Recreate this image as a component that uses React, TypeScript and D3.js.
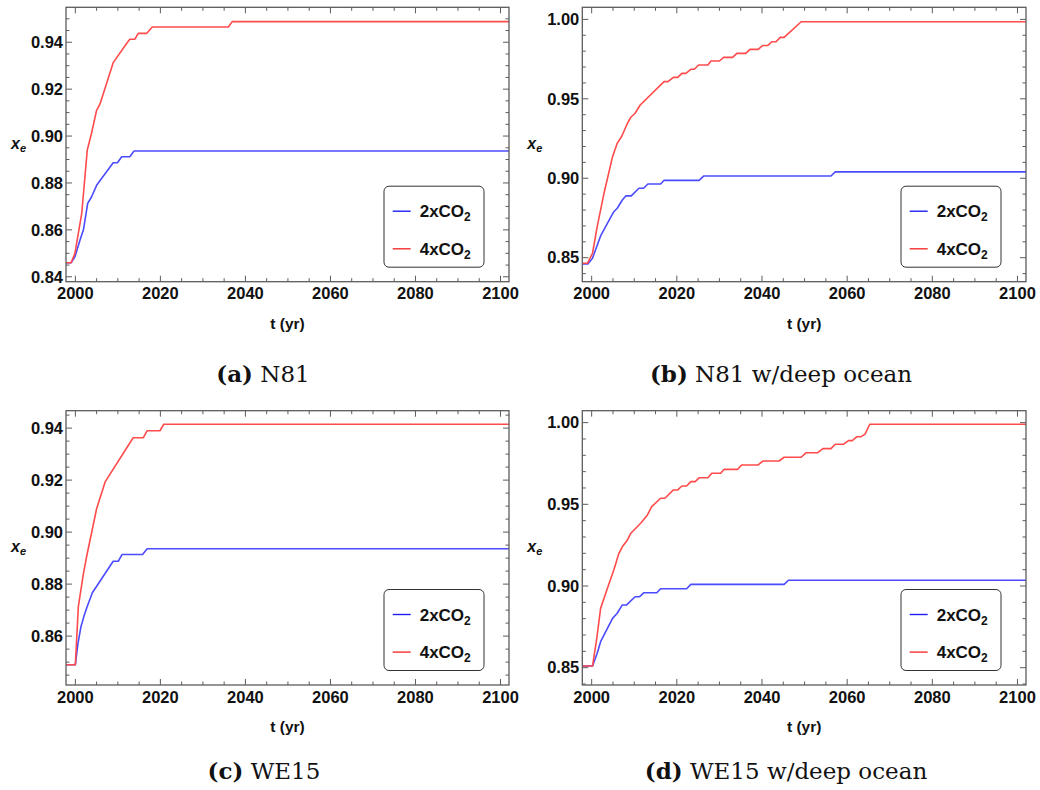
import React from 'react';
import * as d3 from 'd3';

// Shared time axis (years)
const X_DOMAIN: [number, number] = [1997.8, 2102];
const X_MAJOR = [2000, 2020, 2040, 2060, 2080, 2100];
const X_MINOR_STEP = 5;

// Legend entries
const LEGEND_LABELS = ['2xCO', '4xCO'];

// y-axis ticks per panel
const Y_MAJOR_SMALL = [0.84, 0.86, 0.88, 0.9, 0.92, 0.94];
const Y_MAJOR_WE15 = [0.86, 0.88, 0.9, 0.92, 0.94];
const Y_MAJOR_DEEP = [0.85, 0.9, 0.95, 1.0];

// (a) N81
const n81TwoX: [number, number][] = [
  [1997.8, 0.846], [1999.0, 0.846], [1999.9, 0.8485], [2001.1, 0.8557], [2001.9, 0.86],
  [2002.9, 0.8713], [2003.8, 0.874], [2005.0, 0.879], [2008.9, 0.8886], [2009.9, 0.8886],
  [2010.9, 0.8912], [2012.8, 0.8912], [2013.8, 0.8936], [2102, 0.8936],
];
const n81FourX: [number, number][] = [
  [1997.8, 0.846], [1999.0, 0.846], [1999.9, 0.85], [2001.5, 0.867], [2002.8, 0.894],
  [2003.8, 0.9012], [2005.0, 0.911], [2005.8, 0.9137], [2008.9, 0.9313], [2012.1, 0.9396],
  [2012.8, 0.9413], [2014.0, 0.9413], [2014.8, 0.9438], [2016.8, 0.9438], [2018.1, 0.9465],
  [2036.0, 0.9465], [2036.9, 0.9488], [2102, 0.9488],
];

// (b) N81 with deep ocean
const n81DeepTwoX: [number, number][] = [
  [1997.8, 0.8461], [1999.1, 0.8461], [2000.2, 0.8497], [2002.1, 0.8637], [2003.5, 0.8706],
  [2005.1, 0.8786], [2006.0, 0.8811], [2007.2, 0.8863], [2008.0, 0.8889], [2009.3, 0.8889],
  [2011.1, 0.8937], [2012.2, 0.8937], [2013.2, 0.8964], [2016.2, 0.8964], [2017.0, 0.8987],
  [2025.2, 0.8987], [2026.3, 0.9014], [2056.2, 0.9014], [2057.2, 0.904], [2102, 0.904],
];
const n81DeepFourX: [number, number][] = [
  [1997.8, 0.8465], [1999.0, 0.8465], [2000.2, 0.8528], [2001.3, 0.8696], [2002.9, 0.8906],
  [2004.9, 0.9136], [2006.0, 0.922], [2007.1, 0.9266], [2008.4, 0.9346], [2009.2, 0.9384],
  [2010.2, 0.9409], [2011.4, 0.9461], [2017.0, 0.9608], [2017.9, 0.9608], [2019.2, 0.9635],
  [2020.2, 0.9635], [2021.2, 0.966], [2022.1, 0.966], [2023.3, 0.9686], [2024.1, 0.9686],
  [2025.1, 0.9713], [2027.3, 0.9713], [2028.0, 0.9738], [2030.0, 0.9738], [2031.0, 0.9761],
  [2033.1, 0.9761], [2034.1, 0.9786], [2036.2, 0.9786], [2037.2, 0.9811], [2039.1, 0.9811],
  [2040.2, 0.9836], [2041.4, 0.9836], [2042.3, 0.9859], [2043.3, 0.9859], [2044.3, 0.9887],
  [2045.2, 0.9887], [2049.2, 0.9985], [2102, 0.9985],
];

// (c) WE15
const we15TwoX: [number, number][] = [
  [1997.8, 0.849], [2000.0, 0.849], [2000.6, 0.857], [2001.3, 0.8635], [2002.0, 0.8675],
  [2002.7, 0.871], [2004.0, 0.8767], [2008.9, 0.8888], [2010.1, 0.8888], [2011.0, 0.8914],
  [2015.8, 0.8914], [2016.9, 0.8936], [2102, 0.8936],
];
const we15FourX: [number, number][] = [
  [1997.8, 0.849], [2000.0, 0.849], [2000.7, 0.8713], [2001.9, 0.884], [2002.7, 0.891],
  [2005.0, 0.909], [2007.0, 0.9193], [2013.6, 0.9363], [2016.0, 0.9363], [2016.9, 0.939],
  [2019.9, 0.939], [2020.8, 0.9415], [2102, 0.9415],
];

// (d) WE15 with deep ocean
const we15DeepTwoX: [number, number][] = [
  [1997.8, 0.851], [2000.2, 0.851], [2001.3, 0.8588], [2002.1, 0.8659], [2004.9, 0.8802],
  [2006.0, 0.8833], [2007.2, 0.8884], [2008.2, 0.8884], [2010.2, 0.8934], [2011.2, 0.8934],
  [2012.3, 0.8959], [2015.3, 0.8959], [2016.2, 0.8983], [2022.3, 0.8983], [2023.3, 0.901],
  [2045.2, 0.901], [2046.2, 0.9035], [2102, 0.9035],
];
const we15DeepFourX: [number, number][] = [
  [1997.8, 0.851], [2000.2, 0.851], [2001.2, 0.868], [2002.1, 0.8863], [2003.7, 0.8986],
  [2005.2, 0.9098], [2006.4, 0.92], [2007.2, 0.924], [2008.4, 0.9282], [2009.2, 0.9323],
  [2011.5, 0.9384], [2013.1, 0.9435], [2014.1, 0.9486], [2016.2, 0.9537], [2017.2, 0.9537],
  [2019.2, 0.9588], [2020.2, 0.9588], [2021.2, 0.9612], [2022.3, 0.9612], [2023.3, 0.9639],
  [2024.3, 0.9639], [2025.3, 0.9663], [2027.3, 0.9663], [2028.2, 0.969], [2030.3, 0.969],
  [2031.1, 0.9714], [2034.3, 0.9714], [2035.2, 0.9741], [2039.1, 0.9741], [2040.2, 0.9765],
  [2044.0, 0.9765], [2045.2, 0.9788], [2049.2, 0.9788], [2050.4, 0.9816], [2053.1, 0.9816],
  [2054.3, 0.9841], [2056.2, 0.9841], [2057.2, 0.9868], [2059.2, 0.9868], [2060.3, 0.989],
  [2061.2, 0.989], [2062.3, 0.9914], [2063.3, 0.9914], [2064.2, 0.993], [2065.3, 0.999],
  [2102, 0.999],
];

const BLUE = '#4b4bff';
const RED = '#ff4b4b';
const LEGEND_COLORS = ['#1f1ff5', '#f53030'];
const FRAME = '#5c5c5c';
const SANS = '"Liberation Sans", Arial, Helvetica, sans-serif';
const SERIF = '"DejaVu Serif", Georgia, serif';

type Frame = { left: number; top: number; right: number; bottom: number };

type PanelProps = {
  id: string;
  frame: Frame;
  yDomain: [number, number];
  yMajor: number[];
  yMinorStep: number;
  twoX: [number, number][];
  fourX: [number, number][];
  tag: string;
  name: string;
  captionX: number;
  captionY: number;
};

function stepTicks(domain: [number, number], step: number, majors: number[]) {
  const lo = Math.ceil(domain[0] / step - 1e-9);
  const hi = Math.floor(domain[1] / step + 1e-9);
  return d3
    .range(lo, hi + 1)
    .map((k) => +(k * step).toFixed(6))
    .filter((v) => !majors.some((m) => Math.abs(m - v) < 1e-9));
}

function Panel(p: PanelProps) {
  const { left, top, right, bottom } = p.frame;
  const x = d3.scaleLinear().domain(X_DOMAIN).range([left, right]);
  const y = d3.scaleLinear().domain(p.yDomain).range([bottom, top]);
  const line = d3
    .line<[number, number]>()
    .x((d) => x(d[0]))
    .y((d) => y(d[1]));

  const xMinor = stepTicks(X_DOMAIN, X_MINOR_STEP, X_MAJOR);
  const yMinor = stepTicks(p.yDomain, p.yMinorStep, p.yMajor);
  const fmt = d3.format('.2f');
  const MAJ = 6;
  const MIN = 3.5;

  const legW = 100;
  const legH = 81;
  const legX = right - 25 - legW;
  const legY = bottom - 14.5 - legH;

  const midY = (top + bottom) / 2;
  const midX = (left + right) / 2;

  return (
    <g>
      <defs>
        <clipPath id={`clip-${p.id}`}>
          <rect x={left} y={top} width={right - left} height={bottom - top} />
        </clipPath>
      </defs>

      {/* data lines */}
      <g clipPath={`url(#clip-${p.id})`} fill="none" strokeWidth={1.6} strokeLinejoin="round">
        <path d={line(p.twoX) || ''} stroke={BLUE} />
        <path d={line(p.fourX) || ''} stroke={RED} />
      </g>

      {/* ticks on all four sides, pointing inward */}
      <g stroke={FRAME} strokeWidth={1}>
        {X_MAJOR.map((t) => (
          <g key={`xM${t}`}>
            <line x1={x(t)} x2={x(t)} y1={bottom} y2={bottom - MAJ} />
            <line x1={x(t)} x2={x(t)} y1={top} y2={top + MAJ} />
          </g>
        ))}
        {xMinor.map((t) => (
          <g key={`xm${t}`}>
            <line x1={x(t)} x2={x(t)} y1={bottom} y2={bottom - MIN} />
            <line x1={x(t)} x2={x(t)} y1={top} y2={top + MIN} />
          </g>
        ))}
        {p.yMajor.map((t) => (
          <g key={`yM${t}`}>
            <line x1={left} x2={left + MAJ} y1={y(t)} y2={y(t)} />
            <line x1={right} x2={right - MAJ} y1={y(t)} y2={y(t)} />
          </g>
        ))}
        {yMinor.map((t) => (
          <g key={`ym${t}`}>
            <line x1={left} x2={left + MIN} y1={y(t)} y2={y(t)} />
            <line x1={right} x2={right - MIN} y1={y(t)} y2={y(t)} />
          </g>
        ))}
      </g>

      {/* frame */}
      <rect
        x={left}
        y={top}
        width={right - left}
        height={bottom - top}
        fill="none"
        stroke={FRAME}
        strokeWidth={1.3}
      />

      {/* tick labels */}
      <g fontFamily={SANS} fontWeight="bold" fontSize={16.5} fill="#111">
        {X_MAJOR.map((t) => (
          <text key={`xl${t}`} x={x(t)} y={bottom + 17.5} textAnchor="middle">
            {String(t)}
          </text>
        ))}
        {p.yMajor.map((t) => (
          <text key={`yl${t}`} x={left - 3} y={y(t)} dy="0.35em" textAnchor="end">
            {fmt(t)}
          </text>
        ))}
      </g>

      {/* axis titles */}
      <text
        x={midX}
        y={bottom + 47}
        textAnchor="middle"
        fontFamily={SANS}
        fontWeight="bold"
        fontSize={15.5}
        fill="#111"
      >
        t (yr)
      </text>
      <text
        x={left - 55}
        y={midY + 4}
        fontFamily={SANS}
        fontWeight="bold"
        fontStyle="italic"
        fontSize={16}
        fill="#111"
      >
        x
        <tspan fontSize={11} dy={3.5}>
          e
        </tspan>
      </text>

      {/* legend */}
      <rect
        x={legX}
        y={legY}
        width={legW}
        height={legH}
        rx={5}
        ry={5}
        fill="#fff"
        stroke="#333"
        strokeWidth={1}
      />
      {LEGEND_LABELS.map((lab, i) => {
        const ly = legY + 25 + i * 37.6;
        return (
          <g key={lab}>
            <line
              x1={legX + 8.7}
              x2={legX + 26.7}
              y1={ly}
              y2={ly}
              stroke={LEGEND_COLORS[i]}
              strokeWidth={1.4}
            />
            <text
              x={legX + 35.7}
              y={ly + 6}
              fontFamily={SANS}
              fontWeight="bold"
              fontSize={17}
              fill="#111"
            >
              {lab}
              <tspan fontSize={12} dy={4}>
                2
              </tspan>
            </text>
          </g>
        );
      })}

      {/* caption */}
      <text x={p.captionX} y={p.captionY} textAnchor="middle" fontFamily={SERIF} fontSize={23} fill="#111">
        <tspan fontWeight="bold">{p.tag}</tspan>
        <tspan> {p.name}</tspan>
      </text>
    </g>
  );
}

export default function App() {
  return (
    <svg
      width={1040}
      height={790}
      viewBox="0 0 1040 790"
      style={{ position: 'absolute', left: 0, top: 0, background: '#fff' }}
    >
      <rect width={1040} height={790} fill="#fff" />
      <Panel
        id="a"
        frame={{ left: 66, top: 7.3, right: 509, bottom: 281.7 }}
        yDomain={[0.8379, 0.9549]}
        yMajor={Y_MAJOR_SMALL}
        yMinorStep={0.005}
        twoX={n81TwoX}
        fourX={n81FourX}
        tag="(a)"
        name="N81"
        captionX={263}
        captionY={382}
      />
      <Panel
        id="b"
        frame={{ left: 582.3, top: 7.3, right: 1026, bottom: 281.7 }}
        yDomain={[0.8349, 1.0076]}
        yMajor={Y_MAJOR_DEEP}
        yMinorStep={0.01}
        twoX={n81DeepTwoX}
        fourX={n81DeepFourX}
        tag="(b)"
        name="N81 w/deep ocean"
        captionX={781}
        captionY={382}
      />
      <Panel
        id="c"
        frame={{ left: 66, top: 410.7, right: 509, bottom: 685 }}
        yDomain={[0.8412, 0.9467]}
        yMajor={Y_MAJOR_WE15}
        yMinorStep={0.005}
        twoX={we15TwoX}
        fourX={we15FourX}
        tag="(c)"
        name="WE15"
        captionX={264}
        captionY={779}
      />
      <Panel
        id="d"
        frame={{ left: 582.3, top: 410.7, right: 1026, bottom: 685 }}
        yDomain={[0.8394, 1.0073]}
        yMajor={Y_MAJOR_DEEP}
        yMinorStep={0.01}
        twoX={we15DeepTwoX}
        fourX={we15DeepFourX}
        tag="(d)"
        name="WE15 w/deep ocean"
        captionX={786}
        captionY={779}
      />
    </svg>
  );
}
